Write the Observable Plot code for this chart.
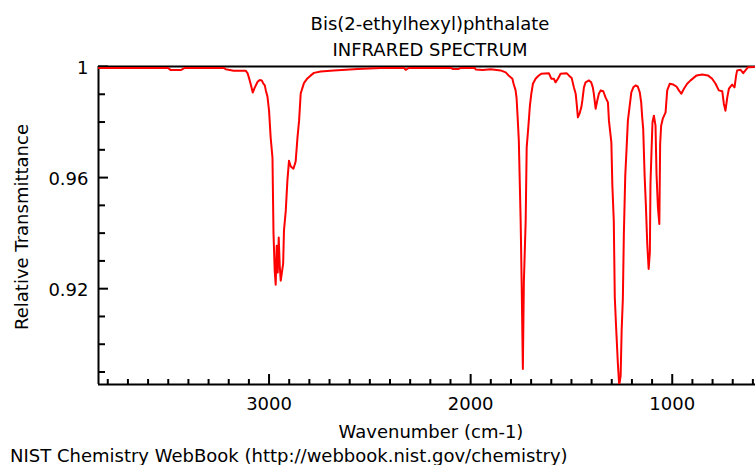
<!DOCTYPE html>
<html>
<head>
<meta charset="utf-8">
<script src="https://cdn.jsdelivr.net/npm/d3@7"></script>
<script src="https://cdn.jsdelivr.net/npm/@observablehq/plot@0.6"></script>
<style>
  body { margin: 0; background: #fff; }
  #fig { position: relative; width: 755px; height: 465px; font-family: "DejaVu Sans", sans-serif; }
  #fig svg.labels { position: absolute; left: 0; top: 0; pointer-events: none; }
  #fig svg.labels text { font-family: "DejaVu Sans", sans-serif; font-size: 18px; fill: #000; }
</style>
</head>
<body>
<div id="fig"></div>
<script>
// IR spectrum of bis(2-ethylhexyl) phthalate: wavenumber (cm-1) and relative transmittance
const wavenumber = [
  3844, 3502, 3487, 3438, 3418, 3225, 3215, 3175, 3116, 3106, 3096, 3088, 3081, 3071, 3056, 3046,
  3036, 3029, 3021, 3016, 3008, 3000, 2992, 2983, 2978, 2972, 2967, 2962, 2957, 2952, 2947, 2942,
  2935, 2930, 2926, 2917, 2909, 2901, 2897, 2892, 2879, 2868, 2859, 2851, 2843, 2834, 2827, 2810,
  2793, 2777, 2744, 2679, 2560, 2446, 2330, 2322, 2307, 2095, 2090, 2059, 2050, 1980, 1975, 1940,
  1901, 1851, 1826, 1812, 1793, 1787, 1777, 1772, 1766, 1761, 1752, 1747, 1741, 1736, 1727, 1722,
  1714, 1706, 1699, 1691, 1678, 1666, 1650, 1612, 1600, 1587, 1579, 1567, 1554, 1524, 1513, 1499,
  1488, 1479, 1474, 1468, 1460, 1451, 1446, 1438, 1430, 1413, 1402, 1394, 1389, 1380, 1372, 1364,
  1355, 1342, 1331, 1319, 1314, 1302, 1297, 1290, 1285, 1278, 1270, 1263, 1256, 1251, 1245, 1240,
  1233, 1227, 1220, 1212, 1203, 1193, 1182, 1171, 1161, 1154, 1149, 1144, 1137, 1131, 1124, 1117,
  1111, 1108, 1103, 1098, 1091, 1083, 1078, 1071, 1064, 1060, 1055, 1047, 1033, 1025, 1012, 995,
  979, 967, 955, 942, 926, 909, 879, 851, 823, 802, 785, 769, 752, 744, 736, 727,
  719, 703, 691, 683, 678, 661, 648, 637, 625, 587
];
const transmittance = [
  0.9995, 0.9995, 0.9987, 0.9987, 0.9995, 0.9995, 0.9990, 0.9985, 0.9985, 0.9975, 0.9950, 0.9928, 0.9906, 0.9924, 0.9946, 0.9951,
  0.9950, 0.9939, 0.9932, 0.9914, 0.9892, 0.9841, 0.9744, 0.9672, 0.9402, 0.9265, 0.9214, 0.9355, 0.9258, 0.9384, 0.9283, 0.9229,
  0.9265, 0.9290, 0.9409, 0.9481, 0.9589, 0.9661, 0.9650, 0.9640, 0.9632, 0.9658, 0.9744, 0.9805, 0.9903, 0.9924, 0.9940, 0.9957,
  0.9968, 0.9977, 0.9982, 0.9986, 0.9991, 0.9995, 0.9995, 0.9988, 0.9995, 0.9995, 0.9991, 0.9991, 0.9995, 0.9995, 0.9989, 0.9987,
  0.9990, 0.9986, 0.9979, 0.9968, 0.9956, 0.9938, 0.9914, 0.9885, 0.9805, 0.9733, 0.9445, 0.9223, 0.8911, 0.9223, 0.9445, 0.9709,
  0.9781, 0.9859, 0.9902, 0.9938, 0.9956, 0.9965, 0.9974, 0.9976, 0.9956, 0.9956, 0.9943, 0.9956, 0.9974, 0.9976, 0.9968, 0.9959,
  0.9925, 0.9902, 0.9866, 0.9817, 0.9830, 0.9853, 0.9877, 0.9925, 0.9943, 0.9950, 0.9943, 0.9925, 0.9902, 0.9848, 0.9877, 0.9902,
  0.9914, 0.9911, 0.9889, 0.9871, 0.9805, 0.9727, 0.9571, 0.9445, 0.9169, 0.9055, 0.8934, 0.8852, 0.8886, 0.9049, 0.9163, 0.9397,
  0.9607, 0.9697, 0.9805, 0.9853, 0.9907, 0.9925, 0.9932, 0.9928, 0.9907, 0.9871, 0.9817, 0.9775, 0.9607, 0.9505, 0.9361, 0.9271,
  0.9331, 0.9577, 0.9691, 0.9799, 0.9823, 0.9787, 0.9613, 0.9493, 0.9433, 0.9721, 0.9787, 0.9812, 0.9835, 0.9914, 0.9938, 0.9935,
  0.9928, 0.9914, 0.9902, 0.9920, 0.9938, 0.9950, 0.9968, 0.9971, 0.9968, 0.9956, 0.9938, 0.9914, 0.9911, 0.9866, 0.9841, 0.9889,
  0.9920, 0.9935, 0.9925, 0.9968, 0.9986, 0.9988, 0.9976, 0.9986, 0.9997, 0.9998
];

// Axis ranges and ticks
const xRange = [3846, 587];
const yRange = [0.8855, 1];
const xMajorTicks = [3000, 2000, 1000];
const xMinorTicks = [3800, 3700, 3600, 3500, 3400, 3300, 3200, 3100, 2900, 2800, 2700, 2600, 2500, 2400, 2300, 2200, 2100,
                     1900, 1800, 1700, 1600, 1500, 1400, 1300, 1200, 1100, 900, 800, 700, 600];
const yMajorTicks = [0.92, 0.96, 1];
const yMinorTicks = [0.89, 0.90, 0.91, 0.93, 0.94, 0.95, 0.97, 0.98, 0.99];

const titleText = "Bis(2-ethylhexyl)phthalate";
const subtitleText = "INFRARED SPECTRUM";
const xLabel = "Wavenumber (cm-1)";
const yLabel = "Relative Transmittance";
const captionText = "NIST Chemistry WebBook (http://webbook.nist.gov/chemistry)";

const spectrum = wavenumber.map((w, i) => ({wavenumber: w, transmittance: transmittance[i]}));

const chart = Plot.plot({
  width: 755,
  height: 465,
  marginTop: 66,
  marginBottom: 81,
  marginLeft: 98,
  marginRight: 0,
  style: {fontFamily: "DejaVu Sans, sans-serif", fontSize: "18px", color: "#000", background: "#fff", overflow: "visible"},
  x: {domain: xRange},
  y: {domain: yRange},
  marks: [
    // inward-pointing tick marks
    Plot.axisX(xMinorTicks, {tickSize: -5, strokeWidth: 2, fill: "none", label: null}),
    Plot.axisX(xMajorTicks, {tickSize: -10, strokeWidth: 2, fill: "none", label: null}),
    Plot.axisX(xMajorTicks, {tickSize: 0, tickPadding: 13, tickFormat: "d", label: null}),
    Plot.axisY(yMinorTicks, {tickSize: -7, strokeWidth: 2, fill: "none", label: null}),
    Plot.axisY(yMajorTicks, {tickSize: -10, strokeWidth: 2, fill: "none", label: null}),
    Plot.axisY(yMajorTicks, {tickSize: 0, tickPadding: 10, dy: 2, tickFormat: (d) => String(d), label: null}),
    // frame lines: top, bottom, left
    Plot.ruleY([yRange[1]], {stroke: "#000", strokeWidth: 2}),
    Plot.ruleY([yRange[0]], {stroke: "#000", strokeWidth: 2}),
    Plot.ruleX([xRange[0]], {stroke: "#000", strokeWidth: 2}),
    // spectrum trace
    Plot.line(spectrum, {x: "wavenumber", y: "transmittance", stroke: "#ff0000", strokeWidth: 2, clip: true})
  ]
});

const fig = document.getElementById("fig");
fig.appendChild(chart);

// titles, axis labels and credit line
const ns = "http://www.w3.org/2000/svg";
const labels = document.createElementNS(ns, "svg");
labels.setAttribute("class", "labels");
labels.setAttribute("width", 755);
labels.setAttribute("height", 465);
function addText(str, attrs) {
  const t = document.createElementNS(ns, "text");
  for (const [k, v] of Object.entries(attrs)) t.setAttribute(k, v);
  t.textContent = str;
  labels.appendChild(t);
}
addText(titleText, {x: 430, y: 30, "text-anchor": "middle"});
addText(subtitleText, {x: 430, y: 56, "text-anchor": "middle"});
addText(xLabel, {x: 431, y: 438, "text-anchor": "middle"});
addText(yLabel, {transform: "translate(28,227) rotate(-90)", "text-anchor": "middle"});
addText(captionText, {x: 10, y: 462});
fig.appendChild(labels);
</script>
</body>
</html>
